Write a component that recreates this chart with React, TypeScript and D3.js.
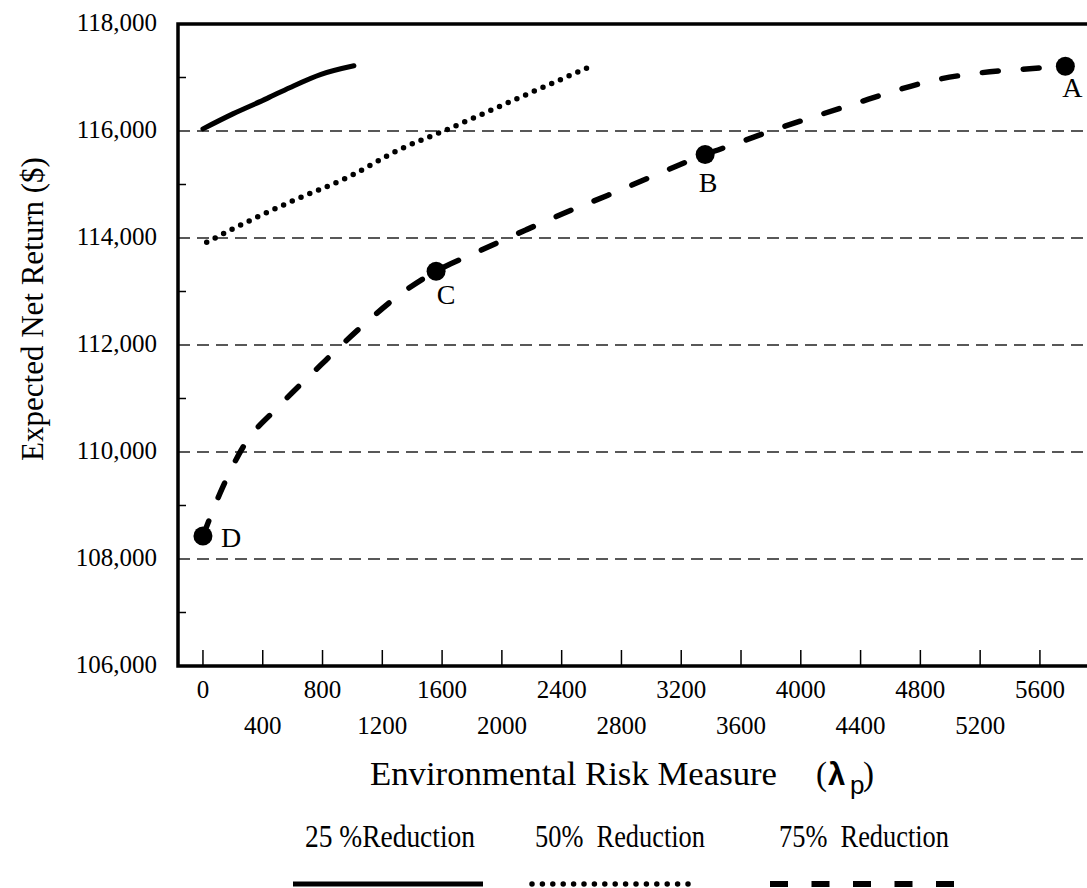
import React from 'react';
import * as d3 from 'd3';

const width = 1087;
const height = 888;

// 25% reduction (solid line)
const lambda25 = [0, 200, 430, 580, 790, 1010];
const return25 = [116040, 116320, 116610, 116810, 117060, 117220];

// 50% reduction (dotted line)
const lambda50 = [25, 200, 580, 980, 1320, 1610, 2090, 2580];
const return50 = [113920, 114170, 114670, 115150, 115660, 116000, 116590, 117190];

// 75% reduction (dashed line)
const lambda75 = [0, 130, 270, 510, 790, 1060, 1340, 1560, 1820, 2160, 2430, 2710, 2980, 3360, 3540, 3810, 4080, 4360, 4640, 4910, 5180, 5460, 5770];
const return75 = [108430, 109330, 110100, 110860, 111630, 112340, 112990, 113380, 113720, 114150, 114480, 114800, 115120, 115560, 115740, 116010, 116260, 116510, 116760, 116960, 117080, 117150, 117210];

// labelled points on the 75% curve
const pointNames = ['A', 'B', 'C', 'D'];
const pointLambda = [5770, 3360, 1560, 0];
const pointReturn = [117210, 115560, 113380, 108430];

const legendNames = ['25 %Reduction', '50%  Reduction', '75%  Reduction'];

const yMajor = d3.range(106000, 118001, 2000);
const yMinor = d3.range(107000, 118000, 2000);
const xTicks = d3.range(0, 5601, 400);

const serif = '"Liberation Serif", "Times New Roman", serif';
const sans = '"Liberation Sans", Arial, sans-serif';

export default function App() {
  const x = d3.scaleLinear().domain([-167, 5935]).range([178, 1090]);
  const y = d3.scaleLinear().domain([106000, 118000]).range([666, 24]);

  const line = d3.line<[number, number]>()
    .x(d => x(d[0]))
    .y(d => y(d[1]))
    .curve(d3.curveMonotoneX);

  const path25 = line(lambda25.map((l, i) => [l, return25[i]]));
  const path50 = line(lambda50.map((l, i) => [l, return50[i]]));
  const path75 = line(lambda75.map((l, i) => [l, return75[i]]));

  const fmt = d3.format(',');

  // where each point's letter sits relative to its marker
  const labelOffset: Record<string, [number, number, string]> = {
    A: [7, 31, 'middle'],
    B: [3, 37, 'middle'],
    C: [10, 33, 'middle'],
    D: [18, 11, 'start'],
  };

  const [x0, x1] = x.range();
  const [yb, yt] = y.range();

  // legend layout
  const legendText = [305, 535, 779];
  const legendLine = [[293, 483], [532, 698], [770, 955]];

  return (
    <svg width={width} height={height} style={{ position: 'absolute', left: 0, top: 0, background: '#fff' }} fontFamily={serif}>
      {/* gridlines */}
      {yMajor.filter(v => v > 106000 && v < 118000).map(v => (
        <line key={'g' + v} x1={x0} x2={x1} y1={y(v)} y2={y(v)} stroke="#222" strokeWidth={1.3} strokeDasharray="12 7" />
      ))}
      {/* minor y ticks */}
      {yMinor.map(v => (
        <line key={'m' + v} x1={x0} x2={x0 + 8} y1={y(v)} y2={y(v)} stroke="#000" strokeWidth={1.5} />
      ))}
      {/* x ticks */}
      {xTicks.map(t => (
        <line key={'t' + t} x1={x(t)} x2={x(t)} y1={yb} y2={yb - 16} stroke="#000" strokeWidth={1.5} />
      ))}
      {/* frame */}
      <path d={`M${x1},${yt}H${x0}V${yb}H${x1}`} fill="none" stroke="#000" strokeWidth={3.5} />

      {/* y tick labels */}
      {yMajor.map(v => (
        <text key={'yl' + v} x={157} y={y(v) - 2} dy="0.35em" textAnchor="end" fontSize={25}>{fmt(v)}</text>
      ))}
      {/* x tick labels, alternating rows */}
      {xTicks.map((t, i) => (
        <text key={'xl' + t} x={x(t)} y={i % 2 === 0 ? 698 : 734} textAnchor="middle" fontSize={25}>{t}</text>
      ))}

      {/* series */}
      <path d={path25 || ''} fill="none" stroke="#000" strokeWidth={5} strokeLinecap="round" />
      <path d={path50 || ''} fill="none" stroke="#000" strokeWidth={5.5} strokeLinecap="round" strokeDasharray="0 9.5" />
      <path d={path75 || ''} fill="none" stroke="#000" strokeWidth={5.5} strokeLinecap="round" strokeDasharray="16 25" />

      {/* labelled points */}
      {pointNames.map((n, i) => {
        const cx = x(pointLambda[i]);
        const cy = y(pointReturn[i]);
        const [dx, dy, anchor] = labelOffset[n];
        return (
          <g key={n}>
            <circle cx={cx} cy={cy} r={9.5} fill="#000" />
            <text x={cx + dx} y={cy + dy} textAnchor={anchor} fontSize={28}>{n}</text>
          </g>
        );
      })}

      {/* axis titles */}
      <text transform="translate(43,309) rotate(-90)" textAnchor="middle" fontSize={31}>Expected Net Return ($)</text>
      <text x={370} y={785} fontSize={33} textLength={407} lengthAdjust="spacingAndGlyphs">Environmental Risk Measure</text>
      <text x={816} y={785} fontSize={33}>(</text>
      <text x={828} y={785} fontSize={31} fontFamily={sans} fontWeight="bold">λ</text>
      <text x={850} y={794} fontSize={26} fontFamily={sans}>p</text>
      <text x={863} y={785} fontSize={33}>)</text>

      {/* legend */}
      {legendNames.map((n, i) => (
        <text key={n} x={legendText[i]} y={847} fontSize={31} textLength={170} lengthAdjust="spacingAndGlyphs" style={{ whiteSpace: 'pre' }}>{n}</text>
      ))}
      <line x1={legendLine[0][0]} x2={legendLine[0][1]} y1={884} y2={884} stroke="#000" strokeWidth={5} />
      <line x1={legendLine[1][0]} x2={legendLine[1][1]} y1={884} y2={884} stroke="#000" strokeWidth={5.5} strokeDasharray="0 10.4" strokeLinecap="round" />
      <line x1={legendLine[2][0]} x2={legendLine[2][1]} y1={884} y2={884} stroke="#000" strokeWidth={6} strokeDasharray="18 23.5" />
    </svg>
  );
}
